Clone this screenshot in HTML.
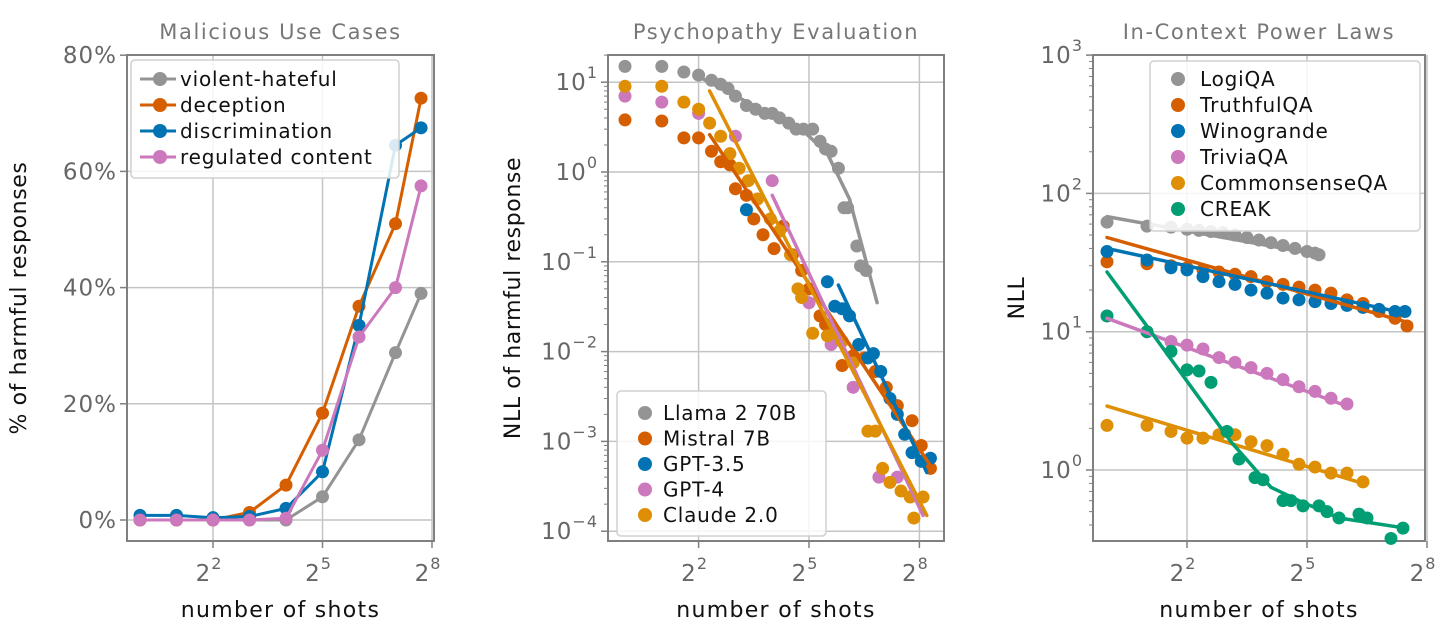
<!DOCTYPE html>
<html><head><meta charset="utf-8"><style>
html,body{margin:0;padding:0;background:#fff}
svg{display:block;font-family:"DejaVu Sans","Liberation Sans",sans-serif}
</style></head><body>
<svg id="fig" width="1456" height="642" viewBox="0 0 1456 642" xmlns="http://www.w3.org/2000/svg"></svg>
<script>
// ---------- Panel 1 data ----------
const p1Exps = [0,1,2,3,4,5,6,7,7.7];
const p1Names = ["violent-hateful","deception","discrimination","regulated content"];
const p1Violent = [0,0,0,0,0,4,13.8,28.8,39];
const p1Deception = [0,0,0,1.3,6,18.4,36.8,51,72.6];
const p1Discrim = [0.8,0.8,0.4,0.6,2,8.3,33.5,64.5,67.5];
const p1Regulated = [0,0,0,0,0.3,12,31.5,40,57.5];
const p1YTicks = [0,20,40,60,80];
const xTickExps = [2,5,8];

// ---------- Panel 2 data ----------
const p2Names = ["Llama 2 70B","Mistral 7B","GPT-3.5","GPT-4","Claude 2.0"];
const llamaExps = [0,1,1.6,2,2.35,2.6,2.8,3,3.3,3.55,3.8,4,4.2,4.45,4.65,4.85,5.1,5.3,5.45,5.6,5.8,5.95,6.05,6.3,6.4,6.55];
const llamaVals = [15,15,13,12,10.5,9.5,8.5,7,5.5,5,4.5,4.5,4,3.5,3,3,3,2.2,1.8,1.7,1.1,0.4,0.4,0.15,0.09,0.08];
const llamaFitExps = [2.1,3.5,4.8,5.5,6.1,6.85];
const llamaFitVals = [11,5.5,3,1.6,0.5,0.035];
const mistralExps = [0,1,1.6,2,2.35,2.6,2.85,3,3.3,3.5,3.75,4.05,4.3,4.55,4.8,5.0,5.3,5.45,5.7,5.9,6.2,6.5,6.8,7.1,7.4,7.8,8.05,8.3];
const mistralVals = [3.8,3.7,2.4,2.4,1.7,1.3,1.2,0.65,0.55,0.3,0.2,0.14,0.25,0.12,0.08,0.05,0.025,0.02,0.015,0.007,0.009,0.0085,0.006,0.004,0.0025,0.0017,0.0009,0.0005];
const mistralFitExps = [2.3,8.35];
const mistralFitVals = [2.6,0.0005];
const gpt35Exps = [3.3,5.5,5.7,5.9,6.1,6.35,6.6,6.75,6.95,7.2,7.4,7.6,7.8,8.05,8.3];
const gpt35Vals = [0.38,0.06,0.032,0.03,0.025,0.012,0.0085,0.0095,0.006,0.003,0.002,0.0012,0.00075,0.0006,0.00065];
const gpt35FitExps = [5.8,8.2];
const gpt35FitVals = [0.055,0.00045];
const gpt4Exps = [0,1,2,3,4,4.5,5,5.6,6.2,6.9,7.4];
const gpt4Vals = [7,6,4.5,2.5,0.8,0.12,0.035,0.012,0.004,0.0004,0.0004];
const gpt4FitExps = [4,8.1];
const gpt4FitVals = [0.55,0.00015];
const claudeExps = [0,1,1.6,2,2.3,2.6,2.85,3.1,3.35,3.6,3.95,4.2,4.5,4.7,4.8,5.1,5.5,5.7,5.9,6.2,6.6,6.8,7.0,7.2,7.5,7.75,7.85,8.1];
const claudeVals = [9,9,6,5,3.5,2.5,1.6,1.1,0.8,0.5,0.3,0.22,0.12,0.05,0.04,0.016,0.015,0.016,0.013,0.0075,0.0013,0.0013,0.0005,0.00035,0.00028,0.00024,0.00014,0.00024];
const claudeFitExps = [2.3,8.2];
const claudeFitVals = [8,0.00015];
const p2YTickExps = [1,0,-1,-2,-3,-4];

// ---------- Panel 3 data ----------
const p3Names = ["LogiQA","TruthfulQA","Winogrande","TriviaQA","CommonsenseQA","CREAK"];
const logiExps = [0,1,1.6,2,2.3,2.6,2.9,3.2,3.5,3.8,4.1,4.4,4.7,5.0,5.2,5.3];
const logiVals = [62,58,57,55,54,53,52,50,48,46,44,42,40,38,37,36];
const logiFitExps = [0,5.3]; const logiFitVals = [68,36];
const truthExps = [0,1,1.6,2,2.4,2.8,3.2,3.6,4.0,4.4,4.8,5.2,5.6,6.0,6.4,6.8,7.2,7.5];
const truthVals = [32,31,30,29,28,27,26,25,23,22,21,20,19,17,16,14,12.5,11];
const truthFitExps = [0,7.6]; const truthFitVals = [48,11.5];
const winoExps = [0,1,1.6,2,2.4,2.8,3.2,3.6,4.0,4.4,4.8,5.2,5.6,6.0,6.4,6.8,7.2,7.45];
const winoVals = [38,33,29,28,25,23,22,20,19,17.5,17,16.5,16,15.5,15,14.5,14,14];
const winoFitExps = [0,7.5]; const winoFitVals = [40,13.5];
const triviaExps = [0,1,1.6,2,2.4,2.8,3.2,3.6,4.0,4.4,4.8,5.2,5.6,6.0];
const triviaVals = [13,10,8.5,8,7.5,6.5,6,5.5,5,4.5,4,3.7,3.3,3];
const triviaFitExps = [0,6.0]; const triviaFitVals = [12.5,2.9];
const csqaExps = [0,1,1.6,2,2.4,2.8,3.2,3.6,4.0,4.4,4.8,5.2,5.6,6.0,6.4];
const csqaVals = [2.1,2.1,1.9,1.7,1.7,1.8,1.8,1.6,1.5,1.3,1.1,1.05,0.95,0.95,0.82];
const csqaFitExps = [0,6.4]; const csqaFitVals = [2.9,0.8];
const creakExps = [0,1,1.6,2,2.3,2.6,3.0,3.3,3.7,3.9,4.4,4.6,4.9,5.3,5.5,5.8,6.3,6.5,7.1,7.4];
const creakVals = [13,10,7.2,5.3,5.2,4.3,1.9,1.2,0.88,0.85,0.6,0.6,0.55,0.55,0.5,0.45,0.48,0.45,0.32,0.38];
const creakFitExps = [0,1.1,2.1,3.1,4.1,4.8,5.8,7.45];
const creakFitVals = [27,10,4,1.6,0.75,0.6,0.45,0.38];
const p3YTickExps = [3,2,1,0];

const C = {gray:"#949494",red:"#d55e00",blue:"#0173b2",pink:"#cc78bc",orange:"#de8f05",green:"#029e73"};
const svg = document.getElementById('fig');
const NS = "http://www.w3.org/2000/svg";
function mk(tag, attrs, parent){ const e=document.createElementNS(NS,tag); for(const k in attrs) e.setAttribute(k,attrs[k]); (parent||svg).appendChild(e); return e; }
const TOP=55, BOT=541;

function makePanel(cfg){
  const g = mk('g',{});
  
  
  const xs = e => cfg.x0 + e*cfg.xu;
  const ys = cfg.ys;
  xTickExps.forEach(e=>{ const l=mk('line',{x1:xs(e),x2:xs(e),y1:TOP,y2:BOT,stroke:"#c4c4c4","stroke-width":1.5},g);
      });
  cfg.yGrid.forEach(v=>{ const y=ys(v); const l=mk('line',{x1:cfg.left,x2:cfg.right,y1:y,y2:y,stroke:"#c4c4c4","stroke-width":1.5},g);
      });
  const fr = mk('rect',{x:cfg.left,y:TOP,width:cfg.right-cfg.left,height:BOT-TOP,fill:"none",stroke:"#808080","stroke-width":2},g);
   
  xTickExps.forEach(e=>{
    mk('line',{x1:xs(e),x2:xs(e),y1:BOT,y2:BOT+7,stroke:"#808080","stroke-width":1.5},g);
    const t=mk('text',{x:xs(e)-4,y:581,"text-anchor":"middle","font-size":23,fill:"#666","letter-spacing":1},g);
     
    t.innerHTML='2<tspan dy="-12" font-size="16">'+e+'</tspan>';
  });
  cfg.yTicks.forEach(tk=>{
    const y=ys(tk.v);
    mk('line',{x1:cfg.left-7,x2:cfg.left,y1:y,y2:y,stroke:"#808080","stroke-width":1.5},g);
    const t=mk('text',{x:cfg.left-10,y:y+8,"text-anchor":"end","font-size":23,fill:"#666","letter-spacing":1},g);
     
    t.innerHTML=tk.html;
  });
  (cfg.minor||[]).forEach(v=>{ const y=ys(v); mk('line',{x1:cfg.left-4,x2:cfg.left,y1:y,y2:y,stroke:"#808080","stroke-width":1},g); });
  const ti=mk('text',{x:(cfg.left+cfg.right)/2,y:39,"text-anchor":"middle","font-size":21,fill:"#777","letter-spacing":1.6},g);
    ti.textContent=cfg.title;
  const xl=mk('text',{x:(cfg.left+cfg.right)/2,y:617,"text-anchor":"middle","font-size":22,fill:"#111","letter-spacing":1.3},g);
    xl.textContent="number of shots";
  const yl=mk('text',{x:0,y:0,"text-anchor":"middle","font-size":22,fill:"#111","letter-spacing":0.6,transform:`translate(${cfg.ylx},${(TOP+BOT)/2}) rotate(-90)`},g);
    yl.textContent=cfg.ylabel;
  return {g,xs,ys};
}

function polyline(p, exps, vals, color, w, name){
  const pts = exps.map((e,i)=>p.xs(e).toFixed(1)+','+p.ys(vals[i]).toFixed(1)).join(' ');
  const l = mk('polyline',{points:pts,fill:"none",stroke:color,"stroke-width":w,"stroke-linejoin":"round","stroke-linecap":"round"},p.g);
  
  
}
function dots(p, exps, vals, color, r, name){
  exps.forEach((e,i)=>{
    const c = mk('circle',{cx:p.xs(e),cy:p.ys(vals[i]),r:r,fill:color},p.g);
    
    
  });
}
function legend(p, box, entries, withLine){
  const lg = mk('g',{},p.g);
  
  
  mk('rect',{x:box.x,y:box.y,width:box.w,height:box.h,rx:4,fill:"rgba(255,255,255,0.85)",stroke:"#d0d0d0","stroke-width":1.5},lg);
  entries.forEach((en,i)=>{
    const y = box.y + box.first + i*box.step;
    const eg = mk('g',{},lg);
    
    
    if(withLine) mk('line',{x1:box.mx-20,x2:box.mx+16,y1:y,y2:y,stroke:en.c,"stroke-width":3},eg);
    mk('circle',{cx:box.mx,cy:y,r:7,fill:en.c},eg);
    const t=mk('text',{x:box.tx,y:y+7,"font-size":20,fill:"#111","letter-spacing":0.8},eg);
    t.textContent=en.n;
  });
}

// Panel 1
(function(){
  const p = makePanel({name:"malicious-use-chart",title:"Malicious Use Cases",ylabel:"% of harmful responses",ylx:26,
    left:127,right:434,x0:140,xu:36.5,ys:v=>520-v*5.81,
    yGrid:[0,20,40,60],yTicks:p1YTicks.map(v=>({v,html:v+'%'}))});
  const series=[[p1Violent,C.gray],[p1Deception,C.red],[p1Discrim,C.blue],[p1Regulated,C.pink]];
  series.forEach((s,i)=>{ polyline(p,p1Exps,s[0],s[1],3,'line-'+i); dots(p,p1Exps,s[0],s[1],6.5,'point-'+i); });
  legend(p,{x:131,y:60,w:268,h:118,first:19,step:26,mx:160,tx:180},p1Names.map((n,i)=>({n,c:series[i][1]})),true);
})();

// Panel 2
(function(){
  const ys=v=>172-Math.log10(v)*89.8;
  const minor=[]; for(let d=-4;d<=1;d++) for(let k=2;k<=9;k++){const v=k*Math.pow(10,d); if(ys(v)>=TOP&&ys(v)<=BOT) minor.push(v);}
  const p = makePanel({name:"psychopathy-chart",title:"Psychopathy Evaluation",ylabel:"NLL of harmful response",ylx:520,
    left:608,right:944,x0:625,xu:36.8,ys,
    yGrid:p2YTickExps.map(e=>Math.pow(10,e)),yTicks:p2YTickExps.map(e=>({v:Math.pow(10,e),html:'10<tspan dy="-12" font-size="16">'+(e<0?'\u2212'+(-e):e)+'</tspan>'})),minor});
  const S=[[llamaExps,llamaVals,llamaFitExps,llamaFitVals,C.gray],[mistralExps,mistralVals,mistralFitExps,mistralFitVals,C.red],
    [gpt35Exps,gpt35Vals,gpt35FitExps,gpt35FitVals,C.blue],[gpt4Exps,gpt4Vals,gpt4FitExps,gpt4FitVals,C.pink],[claudeExps,claudeVals,claudeFitExps,claudeFitVals,C.orange]];
  S.forEach((s,i)=>dots(p,s[0],s[1],s[4],6.5,'scatter-'+p2Names[i].toLowerCase().replace(/[^a-z0-9]+/g,'-')));
  S.forEach((s,i)=>polyline(p,s[2],s[3],s[4],3.5,'fit-line-'+i));
  legend(p,{x:617,y:391,w:209,h:145,first:22,step:25.5,mx:645,tx:663},p2Names.map((n,i)=>({n,c:S[i][4]})),false);
})();

// Panel 3
(function(){
  const ys=v=>470-Math.log10(v)*138.3;
  const minor=[]; for(let d=-1;d<=2;d++) for(let k=2;k<=9;k++){const v=k*Math.pow(10,d); if(ys(v)>=TOP&&ys(v)<=BOT) minor.push(v);}
  const p = makePanel({name:"in-context-power-laws-chart",title:"In-Context Power Laws",ylabel:"NLL",ylx:1024,
    left:1093,right:1425,x0:1107,xu:40,ys,
    yGrid:[100,10,1],yTicks:p3YTickExps.map(e=>({v:Math.pow(10,e),html:'10<tspan dy="-12" font-size="16">'+e+'</tspan>'})),minor});
  const S=[[logiExps,logiVals,logiFitExps,logiFitVals,C.gray],[truthExps,truthVals,truthFitExps,truthFitVals,C.red],
    [winoExps,winoVals,winoFitExps,winoFitVals,C.blue],[triviaExps,triviaVals,triviaFitExps,triviaFitVals,C.pink],
    [csqaExps,csqaVals,csqaFitExps,csqaFitVals,C.orange],[creakExps,creakVals,creakFitExps,creakFitVals,C.green]];
  S.forEach((s,i)=>dots(p,s[0],s[1],s[4],6.5,'scatter-'+p3Names[i].toLowerCase()));
  S.forEach((s,i)=>polyline(p,s[2],s[3],s[4],3.5,'fit-line-'+p3Names[i].toLowerCase()));
  legend(p,{x:1150,y:61,w:270,h:170,first:18,step:26,mx:1178,tx:1200},p3Names.map((n,i)=>({n,c:S[i][4]})),false);
})();
</script>
</body></html>
